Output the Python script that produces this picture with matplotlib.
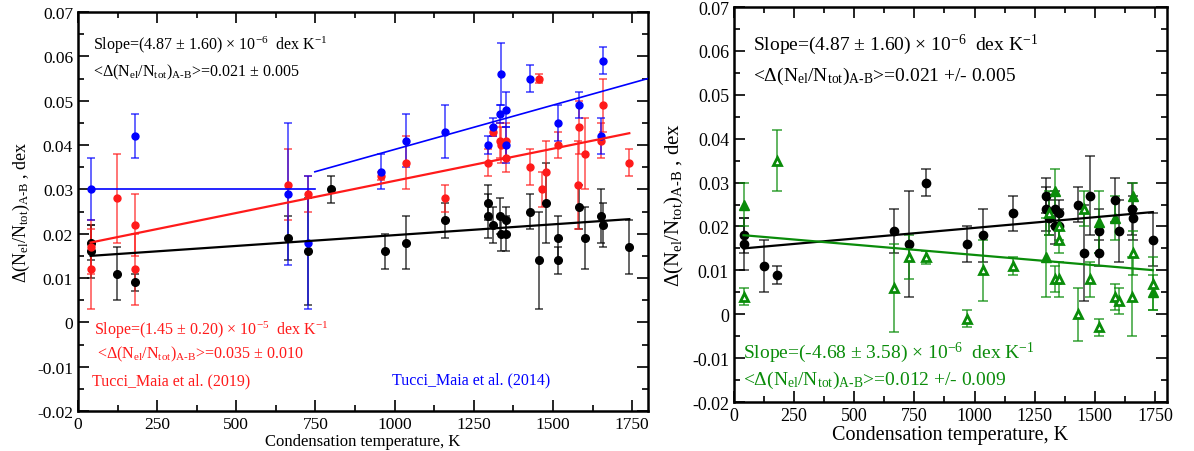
import matplotlib.pyplot as plt
import numpy as np
from matplotlib.ticker import MultipleLocator, FuncFormatter

plt.rcParams['font.family'] = ['Liberation Serif', 'DejaVu Serif']
plt.rcParams['mathtext.fontset'] = 'custom'
plt.rcParams['mathtext.rm'] = 'Liberation Serif'
plt.rcParams['mathtext.it'] = 'Liberation Serif:italic'
plt.rcParams['axes.unicode_minus'] = False

# Tucci Maia (this work) - black, shared by both panels
black_tc = [40, 40, 123, 180, 664, 726, 800, 970, 1037, 1158, 1296, 1296, 1310, 1334,
            1336, 1352, 1353, 1429, 1455, 1478, 1517, 1517, 1582, 1602, 1653, 1659, 1741]
black_val = [0.018, 0.016, 0.011, 0.009, 0.019, 0.016, 0.030, 0.016, 0.018, 0.023, 0.027, 0.024,
             0.022, 0.024, 0.020, 0.023, 0.020, 0.025, 0.014, 0.027, 0.019, 0.014, 0.026, 0.019,
             0.024, 0.022, 0.017]
black_err = [0.004, 0.006, 0.006, 0.002, 0.005, 0.012, 0.003, 0.004, 0.006, 0.004, 0.004, 0.005,
             0.004, 0.004, 0.004, 0.003, 0.004, 0.004, 0.011, 0.009, 0.005, 0.003, 0.005, 0.007,
             0.006, 0.005, 0.006]

# Tucci Maia et al. (2019) - red
red_tc = [40, 40, 123, 180, 180, 664, 726, 958, 1037, 1158, 1296, 1310, 1334, 1336, 1352, 1353,
          1429, 1455, 1464, 1478, 1517, 1578, 1582, 1602, 1653, 1659, 1741]
red_val = [0.017, 0.012, 0.028, 0.022, 0.012, 0.031, 0.029, 0.033, 0.036, 0.028, 0.036, 0.043,
           0.041, 0.040, 0.041, 0.037, 0.035, 0.055, 0.030, 0.034, 0.040, 0.031, 0.044, 0.038,
           0.041, 0.049, 0.036]
red_err = [0.006, 0.009, 0.010, 0.007, 0.008, 0.008, 0.004, 0.001, 0.006, 0.003, 0.003, 0.001,
           0.004, 0.004, 0.004, 0.003, 0.004, 0.001, 0.004, 0.007, 0.003, 0.010, 0.006, 0.008,
           0.004, 0.006, 0.003]

# Tucci Maia et al. (2014) - blue
blue_tc = [40, 180, 664, 726, 958, 1037, 1158, 1296, 1310, 1334, 1336, 1352, 1353, 1429, 1517,
           1582, 1653, 1659]
blue_val = [0.030, 0.042, 0.029, 0.018, 0.034, 0.041, 0.043, 0.040, 0.044, 0.047, 0.056, 0.048,
            0.040, 0.055, 0.045, 0.049, 0.042, 0.059]
blue_err = [0.007, 0.005, 0.016, 0.015, 0.004, 0.006, 0.006, 0.002, 0.002, 0.002, 0.007, 0.004,
            0.004, 0.003, 0.004, 0.003, 0.004, 0.003]

# green triangles (right panel)
green_tc = [40, 40, 180, 664, 726, 800, 970, 1037, 1158, 1296, 1310, 1334, 1334, 1352, 1353,
            1353, 1429, 1455, 1478, 1517, 1517, 1582, 1582, 1602, 1653, 1659, 1659, 1741, 1741]
green_val = [0.025, 0.004, 0.035, 0.006, 0.013, 0.013, -0.001, 0.010, 0.011, 0.013, 0.023, 0.028,
             0.008, 0.017, 0.020, 0.008, 0.000, 0.024, 0.008, 0.021, -0.003, 0.022, 0.004, 0.003,
             0.004, 0.027, 0.014, 0.007, 0.005]
green_err = [0.005, 0.002, 0.007, 0.010, 0.005, 0.0015, 0.002, 0.007, 0.002, 0.009, 0.005, 0.005,
             0.003, 0.003, 0.003, 0.004, 0.006, 0.004, 0.004, 0.007, 0.002, 0.005, 0.003, 0.003,
             0.009, 0.003, 0.005, 0.006, 0.004]
green_filled = [1, 0, 0, 0, 0, 0, 0, 0, 0, 1, 0, 1, 0, 0, 0, 0, 0, 0, 0, 1, 0, 1, 0, 0, 0, 1, 0, 0, 1]

# linear fits: (slope, intercept, x_start, x_end)
black_fit = (4.87e-6, 0.0148, 40, 1741)
red_fit = (1.45e-5, 0.01742, 40, 1741)
blue_low_fit = (0.0, 0.030, 35, 748)
blue_high_fit = (2.0e-5, 0.0190, 748, 1800)
green_fit = (-4.68e-6, 0.01819, 40, 1741)

RED = '#ff1a1a'
BLUE = '#0000ff'
GREEN = '#0a8c0a'

fig = plt.figure(figsize=(11.94, 4.52), dpi=100)
ax1 = fig.add_axes([0.0653, 0.0885, 0.4774, 0.8827])
ax2 = fig.add_axes([0.6147, 0.1084, 0.3627, 0.8739])


def points(ax, x, y, e, color, cap, ms, marker='o', mfc=None):
    ax.errorbar(x, y, yerr=e, fmt='none', ecolor=color, elinewidth=1.2, capsize=cap,
                capthick=1.2, alpha=0.7, zorder=2)
    ax.plot(x, y, marker, color=color, ms=ms, mfc=mfc if mfc else color, zorder=3)


def fitline(ax, fit, color, lw):
    b, a, x0, x1 = fit
    xs = np.array([x0, x1])
    ax.plot(xs, a + b * xs, color=color, lw=lw, zorder=4)


def style(ax, tsize):
    ax.set_xlim(0, 1800)
    ax.set_ylim(-0.02, 0.07)
    ax.xaxis.set_major_locator(MultipleLocator(250))
    ax.xaxis.set_minor_locator(MultipleLocator(125))
    ax.yaxis.set_major_locator(MultipleLocator(0.01))
    ax.yaxis.set_minor_locator(MultipleLocator(0.005))
    ax.yaxis.set_major_formatter(FuncFormatter(lambda v, p: '0' if abs(v) < 1e-9 else f'{v:.2f}'))
    ax.tick_params(which='both', direction='in', top=True, right=True, labelsize=tsize, width=1.2)
    ax.tick_params(which='major', length=8)
    ax.tick_params(which='minor', length=4)
    for s in ax.spines.values():
        s.set_linewidth(1.8)


ab = r'$_{\mathrm{A}\text{-}\mathrm{B}}$'
dN = r'Δ(N$_{\rm el}$/N$_{\rm tot}$)' + ab
ylab = dN + ' , dex'

# ---- left panel
points(ax1, black_tc, black_val, black_err, 'black', 3.2, 5.5)
points(ax1, red_tc, red_val, red_err, RED, 3.2, 5)
points(ax1, blue_tc, blue_val, blue_err, BLUE, 3.2, 5)
fitline(ax1, black_fit, 'black', 1.6)
fitline(ax1, red_fit, RED, 1.6)
fitline(ax1, blue_low_fit, BLUE, 1.2)
fitline(ax1, blue_high_fit, BLUE, 1.2)
style(ax1, 12.5)
ax1.set_xlabel('Condensation temperature, K', fontsize=12, labelpad=1)
ax1.set_ylabel(ylab, fontsize=13, labelpad=4)

ax1.text(47, 0.0628, 'Slope=(4.87 ± 1.60) × 10$^{-6}$  dex K$^{-1}$', fontsize=11.5, va='center')
ax1.text(47, 0.0567, '<' + dN + '>=0.021 ± 0.005', fontsize=11.5, va='center')
ax1.text(52, -0.0015, 'Slope=(1.45 ± 0.20) × 10$^{-5}$  dex K$^{-1}$', fontsize=11.5, va='center', color=RED)
ax1.text(60, -0.0069, '<' + dN + '>=0.035 ± 0.010', fontsize=11.5, va='center', color=RED)
ax1.text(45, -0.0132, 'Tucci_Maia et al. (2019)', fontsize=11.5, va='center', color=RED)
ax1.text(992, -0.0128, 'Tucci_Maia et al. (2014)', fontsize=11.5, va='center', color=BLUE)

# ---- right panel
points(ax2, black_tc, black_val, black_err, 'black', 3.8, 6)
gt = np.array(green_tc)
gv = np.array(green_val)
ge = np.array(green_err)
gf = np.array(green_filled, dtype=bool)
ax2.errorbar(gt, gv, yerr=ge, fmt='none', ecolor=GREEN, elinewidth=1.2, capsize=3.8,
             capthick=1.2, alpha=0.75, zorder=2)
ax2.plot(gt[gf], gv[gf], '^', color=GREEN, ms=7, zorder=3)
ax2.plot(gt[~gf], gv[~gf], '^', color=GREEN, ms=6, mfc='white', mew=2, zorder=3)
fitline(ax2, black_fit, 'black', 1.6)
fitline(ax2, green_fit, GREEN, 1.6)
style(ax2, 13)
ax2.set_xlabel('Condensation temperature, K', fontsize=14.5, labelpad=1)
ax2.set_ylabel(ylab, fontsize=15, labelpad=4)

ax2.text(80, 0.0616, 'Slope=(4.87 ± 1.60) × 10$^{-6}$  dex K$^{-1}$', fontsize=14, va='center')
ax2.text(80, 0.0543, '<' + dN + '>=0.021 +/- 0.005', fontsize=14, va='center')
ax2.text(38, -0.0086, 'Slope=(-4.68 ± 3.58) × 10$^{-6}$  dex K$^{-1}$', fontsize=14, va='center', color=GREEN)
ax2.text(38, -0.0148, '<' + dN + '>=0.012 +/- 0.009', fontsize=14, va='center', color=GREEN)

fig.savefig('out.png', dpi=100)
